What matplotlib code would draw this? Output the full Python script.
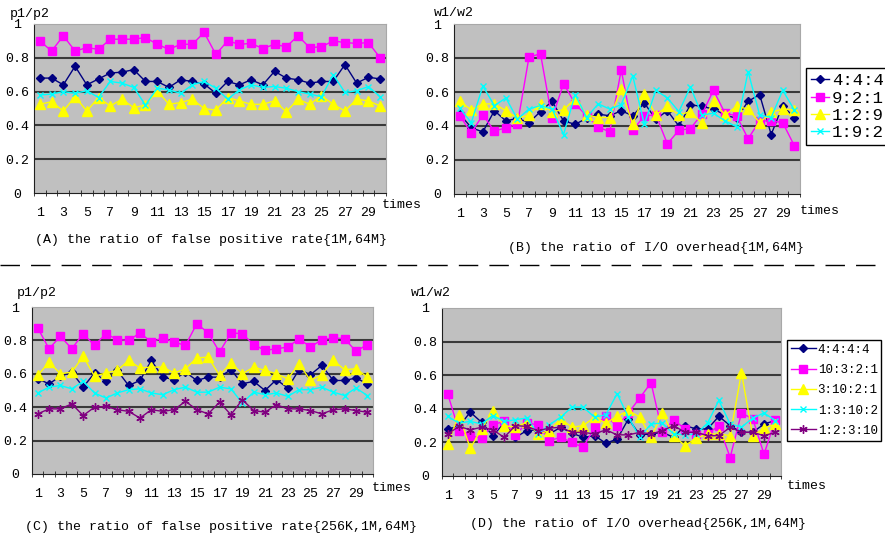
import numpy as np
import matplotlib
matplotlib.use("Agg")
import matplotlib.pyplot as plt
from matplotlib.lines import Line2D

plt.rcParams['font.family'] = ['Liberation Mono', 'DejaVu Sans Mono']

# x axis: 30 runs
times = list(range(1, 31))

# (A) false positive rate ratio {1M,64M}
a_444 = [0.68, 0.68, 0.64, 0.75, 0.64, 0.675, 0.71, 0.715, 0.73, 0.66,
         0.66, 0.625, 0.67, 0.66, 0.645, 0.59, 0.66, 0.64, 0.67, 0.64,
         0.72, 0.68, 0.67, 0.65, 0.66, 0.66, 0.76, 0.65, 0.685, 0.675]
a_921 = [0.90, 0.84, 0.93, 0.84, 0.86, 0.85, 0.91, 0.91, 0.91, 0.92,
         0.88, 0.85, 0.88, 0.88, 0.95, 0.82, 0.90, 0.88, 0.885, 0.855,
         0.88, 0.865, 0.93, 0.86, 0.865, 0.90, 0.89, 0.885, 0.89, 0.80]
a_129 = [0.525, 0.54, 0.485, 0.57, 0.485, 0.565, 0.515, 0.555, 0.505, 0.52,
         0.605, 0.525, 0.535, 0.555, 0.50, 0.49, 0.565, 0.545, 0.525, 0.525,
         0.545, 0.48, 0.555, 0.525, 0.575, 0.525, 0.485, 0.555, 0.545, 0.515]
a_192 = [0.58, 0.585, 0.60, 0.59, 0.605, 0.565, 0.66, 0.65, 0.625, 0.52,
         0.62, 0.61, 0.59, 0.64, 0.66, 0.62, 0.555, 0.61, 0.64, 0.625,
         0.63, 0.62, 0.60, 0.585, 0.57, 0.70, 0.595, 0.605, 0.63, 0.57]

# (B) I/O overhead ratio {1M,64M}
b_444 = [0.47, 0.39, 0.365, 0.49, 0.43, 0.445, 0.42, 0.485, 0.545, 0.43,
         0.41, 0.445, 0.47, 0.46, 0.49, 0.46, 0.535, 0.44, 0.49, 0.40,
         0.525, 0.515, 0.50, 0.465, 0.445, 0.545, 0.585, 0.35, 0.52, 0.45]
b_921 = [0.46, 0.36, 0.465, 0.37, 0.39, 0.41, 0.805, 0.825, 0.445, 0.65,
         0.53, 0.46, 0.395, 0.365, 0.73, 0.375, 0.46, 0.465, 0.295, 0.375,
         0.385, 0.47, 0.61, 0.475, 0.46, 0.325, 0.43, 0.43, 0.42, 0.285]
b_129 = [0.545, 0.495, 0.53, 0.53, 0.49, 0.445, 0.465, 0.53, 0.485, 0.495,
         0.56, 0.465, 0.45, 0.45, 0.615, 0.41, 0.59, 0.465, 0.515, 0.465,
         0.485, 0.415, 0.545, 0.465, 0.515, 0.50, 0.42, 0.48, 0.50, 0.495]
b_192 = [0.505, 0.42, 0.635, 0.52, 0.565, 0.44, 0.50, 0.52, 0.50, 0.35,
         0.585, 0.45, 0.53, 0.50, 0.525, 0.695, 0.41, 0.61, 0.565, 0.485,
         0.63, 0.465, 0.475, 0.43, 0.395, 0.72, 0.465, 0.45, 0.61, 0.495]

# (C) false positive rate ratio {256K,1M,64M}
c_4444 = [0.57, 0.54, 0.585, 0.61, 0.52, 0.605, 0.555, 0.62, 0.53, 0.56,
          0.68, 0.58, 0.565, 0.61, 0.56, 0.58, 0.58, 0.625, 0.54, 0.555,
          0.50, 0.565, 0.515, 0.625, 0.595, 0.65, 0.56, 0.56, 0.575, 0.54]
c_10321 = [0.875, 0.75, 0.825, 0.75, 0.84, 0.77, 0.84, 0.805, 0.80, 0.845,
           0.79, 0.815, 0.79, 0.77, 0.90, 0.845, 0.73, 0.845, 0.84, 0.775,
           0.74, 0.75, 0.76, 0.81, 0.76, 0.805, 0.815, 0.81, 0.735, 0.775]
c_31021 = [0.59, 0.67, 0.60, 0.61, 0.705, 0.585, 0.605, 0.62, 0.68, 0.635,
           0.64, 0.64, 0.605, 0.63, 0.695, 0.70, 0.59, 0.665, 0.60, 0.64,
           0.62, 0.60, 0.57, 0.66, 0.56, 0.595, 0.68, 0.625, 0.63, 0.58]
c_13102 = [0.485, 0.52, 0.53, 0.51, 0.555, 0.485, 0.455, 0.485, 0.505, 0.51,
           0.485, 0.475, 0.505, 0.52, 0.49, 0.49, 0.52, 0.51, 0.425, 0.49,
           0.475, 0.485, 0.465, 0.505, 0.505, 0.52, 0.49, 0.47, 0.515, 0.47]
c_12310 = [0.36, 0.39, 0.39, 0.42, 0.35, 0.40, 0.405, 0.385, 0.375, 0.335,
           0.385, 0.375, 0.385, 0.435, 0.385, 0.36, 0.43, 0.355, 0.445, 0.38,
           0.37, 0.415, 0.39, 0.39, 0.38, 0.36, 0.385, 0.39, 0.38, 0.37]

# (D) I/O overhead ratio {256K,1M,64M}
d_4444 = [0.28, 0.295, 0.38, 0.32, 0.24, 0.315, 0.23, 0.27, 0.275, 0.25,
          0.29, 0.255, 0.23, 0.24, 0.195, 0.22, 0.34, 0.245, 0.25, 0.26,
          0.23, 0.30, 0.28, 0.28, 0.355, 0.30, 0.26, 0.26, 0.31, 0.33]
d_10321 = [0.49, 0.27, 0.24, 0.225, 0.305, 0.325, 0.245, 0.315, 0.305, 0.21,
           0.23, 0.20, 0.17, 0.29, 0.36, 0.295, 0.375, 0.465, 0.555, 0.26,
           0.335, 0.28, 0.25, 0.25, 0.30, 0.11, 0.375, 0.34, 0.13, 0.335]
d_31021 = [0.19, 0.365, 0.165, 0.28, 0.385, 0.30, 0.29, 0.32, 0.25, 0.27,
           0.34, 0.29, 0.30, 0.35, 0.315, 0.355, 0.39, 0.35, 0.23, 0.375,
           0.24, 0.18, 0.225, 0.25, 0.25, 0.24, 0.615, 0.24, 0.285, 0.31]
d_13102 = [0.355, 0.315, 0.325, 0.31, 0.36, 0.325, 0.335, 0.345, 0.25, 0.305,
           0.35, 0.41, 0.41, 0.35, 0.365, 0.49, 0.35, 0.23, 0.31, 0.315,
           0.25, 0.245, 0.25, 0.315, 0.45, 0.31, 0.29, 0.345, 0.375, 0.33]
d_12310 = [0.25, 0.295, 0.275, 0.29, 0.275, 0.23, 0.30, 0.295, 0.27, 0.285,
           0.29, 0.26, 0.26, 0.25, 0.275, 0.245, 0.245, 0.26, 0.25, 0.27,
           0.30, 0.26, 0.26, 0.24, 0.24, 0.29, 0.26, 0.26, 0.24, 0.26]

labels_ab = ["4:4:4", "9:2:1", "1:2:9", "1:9:2"]
labels_cd = ["4:4:4:4", "10:3:2:1", "3:10:2:1", "1:3:10:2", "1:2:3:10"]

# 线条样式（颜色, 标记, 标记大小）
styles = [("#000080", "D", 4.5),
          ("#FF00FF", "s", 6),
          ("#FFFF00", "^", 6.5),
          ("#00FFFF", "x", 5),
          ("#800080", (6, 2, 0), 6)]

W, H = 885, 535
fig = plt.figure(figsize=(W / 100, H / 100), dpi=100)


def px_axes(left, top, right, bottom):
    return fig.add_axes([left / W, 1 - bottom / H, (right - left) / W, (bottom - top) / H])


def ftext(x, y, s, **kw):
    fig.text(x / W, 1 - y / H, s, va="center", **kw)


# 图例参数：位置, 字号, 线长, 行距
panels = [
    dict(box=(34, 24, 386, 193), series=[a_444, a_921, a_129, a_192], labels=labels_ab,
         ylab=("p1/p2", 10, 14), times=(382, 205),
         caption=("(A) the ratio of false positive rate{1M,64M}", 35, 240), legend=None),
    dict(box=(454, 24, 800, 194), series=[b_444, b_921, b_129, b_192], labels=labels_ab,
         ylab=("w1/w2", 434, 13), times=(800, 211),
         caption=("(B) the ratio of I/O overhead{1M,64M}", 508, 248),
         legend=(806, 68, 12.5, 1.05, 0.12)),
    dict(box=(32, 307, 373, 474), series=[c_4444, c_10321, c_31021, c_13102, c_12310],
         labels=labels_cd, ylab=("p1/p2", 17, 293), times=(372, 488),
         caption=("(C) the ratio of false positive rate{256K,1M,64M}", 25, 527), legend=None),
    dict(box=(442, 308, 781, 476), series=[d_4444, d_10321, d_31021, d_13102, d_12310],
         labels=labels_cd, ylab=("w1/w2", 411, 293), times=(787, 486),
         caption=("(D) the ratio of I/O overhead{256K,1M,64M}", 470, 524),
         legend=(787, 340, 9, 2.0, 0.66)),
]

for p in panels:
    ax = px_axes(*p["box"])
    ax.set_facecolor("#C0C0C0")
    for yv in [0.2, 0.4, 0.6, 0.8]:
        ax.axhline(yv, color="#3a3a3a", lw=1.5, zorder=1)
    handles = []
    for vals, lab, (c, m, ms) in zip(p["series"], p["labels"], styles):
        h, = ax.plot(times, vals, color=c, marker=m, markersize=ms, lw=1.0,
                     markeredgecolor=c, markeredgewidth=1.0, label=lab, zorder=3)
        handles.append(h)
    ax.set_xlim(0.5, 30.5)
    ax.set_ylim(0, 1)
    ax.set_yticks([0, 0.2, 0.4, 0.6, 0.8, 1.0])
    ax.set_yticklabels(["0", "0.2", "0.4", "0.6", "0.8", "1"], fontsize=9.5, ha="center")
    ax.tick_params(axis="y", length=0, pad=12)
    ax.set_xticks(times[::2])
    ax.set_xticklabels([str(t) for t in times[::2]], fontsize=9.5)
    ax.set_xticks(np.arange(0.5, 31, 1), minor=True)
    ax.tick_params(axis="x", which="major", length=0, pad=10)
    ax.tick_params(axis="x", which="minor", length=4, direction="inout", color="#202020")
    ax.spines["left"].set_color("#202020")
    ax.spines["bottom"].set_color("#202020")
    ax.spines["top"].set_color("#a8a8a8")
    ax.spines["right"].set_color("#a8a8a8")

    s, x, y = p["ylab"]
    ftext(x, y, s, fontsize=9.5, ha="left")
    ftext(p["times"][0], p["times"][1], "times", fontsize=9.5, ha="left")
    s, x, y = p["caption"]
    ftext(x, y, s, fontsize=9.5, ha="left")

    if p["legend"] is not None:
        lx, ly, fs, hl, ls = p["legend"]
        leg = ax.legend(handles=handles, loc="upper left",
                        bbox_to_anchor=(lx / W, 1 - ly / H), bbox_transform=fig.transFigure,
                        borderaxespad=0, fontsize=fs, frameon=True, fancybox=False,
                        edgecolor="black", framealpha=1, handlelength=hl,
                        handletextpad=0.15, labelspacing=ls, borderpad=0.3)
        leg.get_frame().set_linewidth(1.0)

# 中间的虚线分隔线
sep = Line2D([0, 1], [1 - 265 / H, 1 - 265 / H], transform=fig.transFigure,
             color="black", lw=1.0, linestyle=(0, (14, 8)))
fig.add_artist(sep)

fig.savefig("out.png", dpi=100)
plt.close(fig)
